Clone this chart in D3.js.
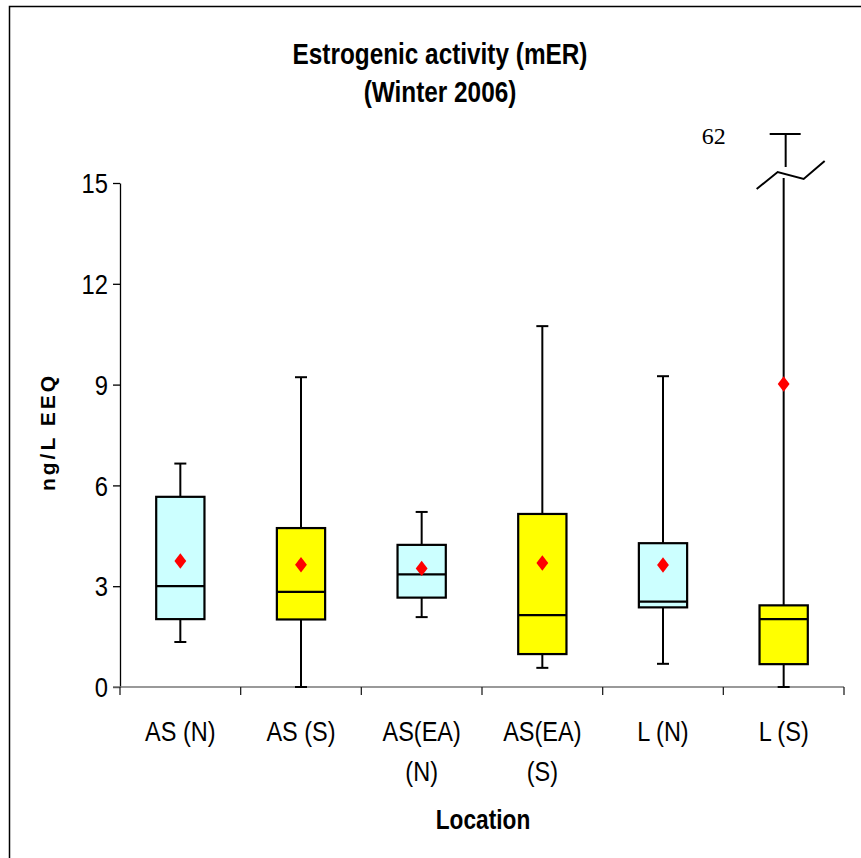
<!DOCTYPE html>
<html>
<head>
<meta charset="utf-8">
<script src="https://cdn.jsdelivr.net/npm/d3@7"></script>
<style>
  body { margin: 0; background: #fff; }
  svg { display: block; }
  text { font-family: "Liberation Sans", Arial, sans-serif; fill: #000; }
</style>
</head>
<body>
<div id="chart"></div>
<script>
// data
const CATEGORIES = ["AS (N)", "AS (S)", "AS(EA) (N)", "AS(EA) (S)", "L (N)", "L (S)"];
const WHISKER_LOW = [1.34, 0, 2.08, 0.57, 0.69, 0];
const Q1 = [2.02, 2.01, 2.66, 0.98, 2.37, 0.68];
const MEDIAN = [3.0, 2.83, 3.35, 2.14, 2.54, 2.02];
const Q3 = [5.66, 4.73, 4.23, 5.15, 4.28, 2.43];
const WHISKER_HIGH = [6.65, 9.22, 5.21, 10.74, 9.25, 62];
const MEAN = [3.75, 3.64, 3.53, 3.69, 3.63, 9.02];
const FILLS = ["#ccffff", "#ffff00", "#ccffff", "#ffff00", "#ccffff", "#ffff00"];
const Y_TICKS = [0, 3, 6, 9, 12, 15];
const Y_MAX = 15;

const SVG_WIDTH = 861;
const SVG_HEIGHT = 858;
const X_LEFT = 120;
const X_RIGHT = 844;
const Y_BOTTOM = 687;
const Y_TOP = 183;
const Y_OFFSCALE = 134;   // where values above the break land
const BOX_FRAC = 0.4;
const NARROW = 0.84;      // no narrow font installed, squeeze instead

const svg = d3.select("#chart")
  .append("svg")
  .attr("width", SVG_WIDTH)
  .attr("height", SVG_HEIGHT);

// condensed text helper
function narrowText(parent, x, y, size, weight, lines, lineGap) {
  const g = parent.append("g")
    .attr("transform", `translate(${x},${y}) scale(${NARROW},1)`);
  const t = g.append("text")
    .attr("text-anchor", "middle")
    .attr("font-size", size)
    .attr("font-weight", weight);
  lines.forEach((ln, j) => {
    t.append("tspan").attr("x", 0).attr("dy", j === 0 ? 0 : lineGap).text(ln);
  });
  return g;
}

// outer frame
svg.append("rect")
  .attr("x", 9.5).attr("y", 6.5)
  .attr("width", SVG_WIDTH).attr("height", SVG_HEIGHT)
  .attr("fill", "none").attr("stroke", "#000").attr("stroke-width", 1.5);

const xScale = d3.scaleBand().domain(CATEGORIES).range([X_LEFT, X_RIGHT]);
const yScale = d3.scaleLinear().domain([0, Y_MAX]).range([Y_BOTTOM, Y_TOP]);
// polylinear so the out-of-range whisker lands above the broken axis
const yFull = d3.scaleLinear().domain([0, Y_MAX, d3.max(WHISKER_HIGH)]).range([Y_BOTTOM, Y_TOP, Y_OFFSCALE]);

// y axis
const yAxis = svg.append("g")
  .attr("class", "y-axis")
  .attr("transform", `translate(${X_LEFT},0)`)
  .call(d3.axisLeft(yScale).tickValues(Y_TICKS).tickSize(7).tickSizeOuter(0));
yAxis.select(".domain").attr("stroke", "#000").attr("stroke-width", 1.3);
yAxis.selectAll(".tick line").attr("stroke", "#000").attr("stroke-width", 1.3);
yAxis.selectAll(".tick text").remove();
yAxis.selectAll(".tick").each(function(d) {
  const g = d3.select(this).append("g").attr("transform", `translate(-12,0) scale(0.88,1)`);
  g.append("text")
    .attr("text-anchor", "end")
    .attr("dy", "0.36em")
    .attr("font-size", 27)
    .text(d);
});

// x axis: ticks on category boundaries
const xAxisG = svg.append("g").attr("class", "x-axis");
xAxisG.append("line")
  .attr("x1", X_LEFT - 7).attr("x2", X_RIGHT)
  .attr("y1", Y_BOTTOM).attr("y2", Y_BOTTOM)
  .attr("stroke", "#777").attr("stroke-width", 1.5);
const bounds = CATEGORIES.map(c => xScale(c)).concat([X_RIGHT]);
xAxisG.selectAll(".xtick")
  .data(bounds)
  .enter().append("line")
  .attr("class", "xtick")
  .attr("x1", d => d).attr("x2", d => d)
  .attr("y1", Y_BOTTOM).attr("y2", Y_BOTTOM + 8)
  .attr("stroke", "#222").attr("stroke-width", 1.3);

// category labels (wrapped like the original)
CATEGORIES.forEach(c => {
  const lines = c.startsWith("AS(EA)") ? c.split(" ") : [c];
  narrowText(svg, xScale(c) + xScale.bandwidth() / 2, 741, 28, "normal", lines, 40);
});

// boxes
const boxW = xScale.bandwidth() * BOX_FRAC;
const capW = 12;
const plot = svg.append("g").attr("class", "boxes");

CATEGORIES.forEach((c, i) => {
  const cx = xScale(c) + xScale.bandwidth() / 2;
  const g = plot.append("g");
  const hi = WHISKER_HIGH[i];
  const broken = hi > Y_MAX;

  // lower whisker
  g.append("line")
    .attr("x1", cx).attr("x2", cx)
    .attr("y1", yFull(Q1[i])).attr("y2", yFull(WHISKER_LOW[i]))
    .attr("stroke", "#000").attr("stroke-width", 2);
  g.append("line")
    .attr("x1", cx - capW / 2).attr("x2", cx + capW / 2)
    .attr("y1", yFull(WHISKER_LOW[i])).attr("y2", yFull(WHISKER_LOW[i]))
    .attr("stroke", "#000").attr("stroke-width", 2);

  if (!broken) {
    g.append("line")
      .attr("x1", cx).attr("x2", cx)
      .attr("y1", yFull(Q3[i])).attr("y2", yFull(hi))
      .attr("stroke", "#000").attr("stroke-width", 2);
    g.append("line")
      .attr("x1", cx - capW / 2).attr("x2", cx + capW / 2)
      .attr("y1", yFull(hi)).attr("y2", yFull(hi))
      .attr("stroke", "#000").attr("stroke-width", 2);
  } else {
    const yBreak = yScale(Y_MAX);
    g.append("line")
      .attr("x1", cx).attr("x2", cx)
      .attr("y1", yFull(Q3[i])).attr("y2", yBreak - 5)
      .attr("stroke", "#000").attr("stroke-width", 2);
    g.append("line")
      .attr("x1", cx + 2).attr("x2", cx + 2)
      .attr("y1", yBreak - 16).attr("y2", yFull(hi))
      .attr("stroke", "#000").attr("stroke-width", 2);
    // break mark
    g.append("path")
      .attr("d", `M${cx - 27},${yBreak + 6} L${cx - 6},${yBreak - 11} L${cx + 20},${yBreak - 4} L${cx + 41},${yBreak - 22}`)
      .attr("fill", "none").attr("stroke", "#000").attr("stroke-width", 2);
    g.append("line")
      .attr("x1", cx - 14).attr("x2", cx + 17)
      .attr("y1", yFull(hi)).attr("y2", yFull(hi))
      .attr("stroke", "#000").attr("stroke-width", 2);
    svg.append("text")
      .attr("x", cx - 82).attr("y", yFull(hi) + 10)
      .style("font-family", "'Liberation Serif', 'Times New Roman', serif")
      .attr("font-size", 24)
      .text(hi);
  }

  g.append("rect")
    .attr("x", cx - boxW / 2).attr("width", boxW)
    .attr("y", yFull(Q3[i])).attr("height", yFull(Q1[i]) - yFull(Q3[i]))
    .attr("fill", FILLS[i]).attr("stroke", "#000").attr("stroke-width", 2.2);
  g.append("line")
    .attr("x1", cx - boxW / 2).attr("x2", cx + boxW / 2)
    .attr("y1", yFull(MEDIAN[i])).attr("y2", yFull(MEDIAN[i]))
    .attr("stroke", "#000").attr("stroke-width", 2.2);

  g.append("path")
    .attr("d", d3.symbol(d3.symbolDiamond2, 115)())
    .attr("transform", `translate(${cx},${yFull(MEAN[i])}) scale(0.88,1.15)`)
    .attr("fill", "#ff0000");
});

// title
narrowText(svg, 440, 64, 29, "bold", ["Estrogenic activity (mER)", "(Winter 2006)"], 38);

// axis titles
narrowText(svg, 483, 829, 27, "bold", ["Location"], 0);

svg.append("text")
  .attr("transform", "translate(55,432) rotate(-90)")
  .attr("text-anchor", "middle")
  .attr("font-size", 21).attr("font-weight", "bold")
  .attr("letter-spacing", 3)
  .text("ng/L EEQ");
</script>
</body>
</html>
